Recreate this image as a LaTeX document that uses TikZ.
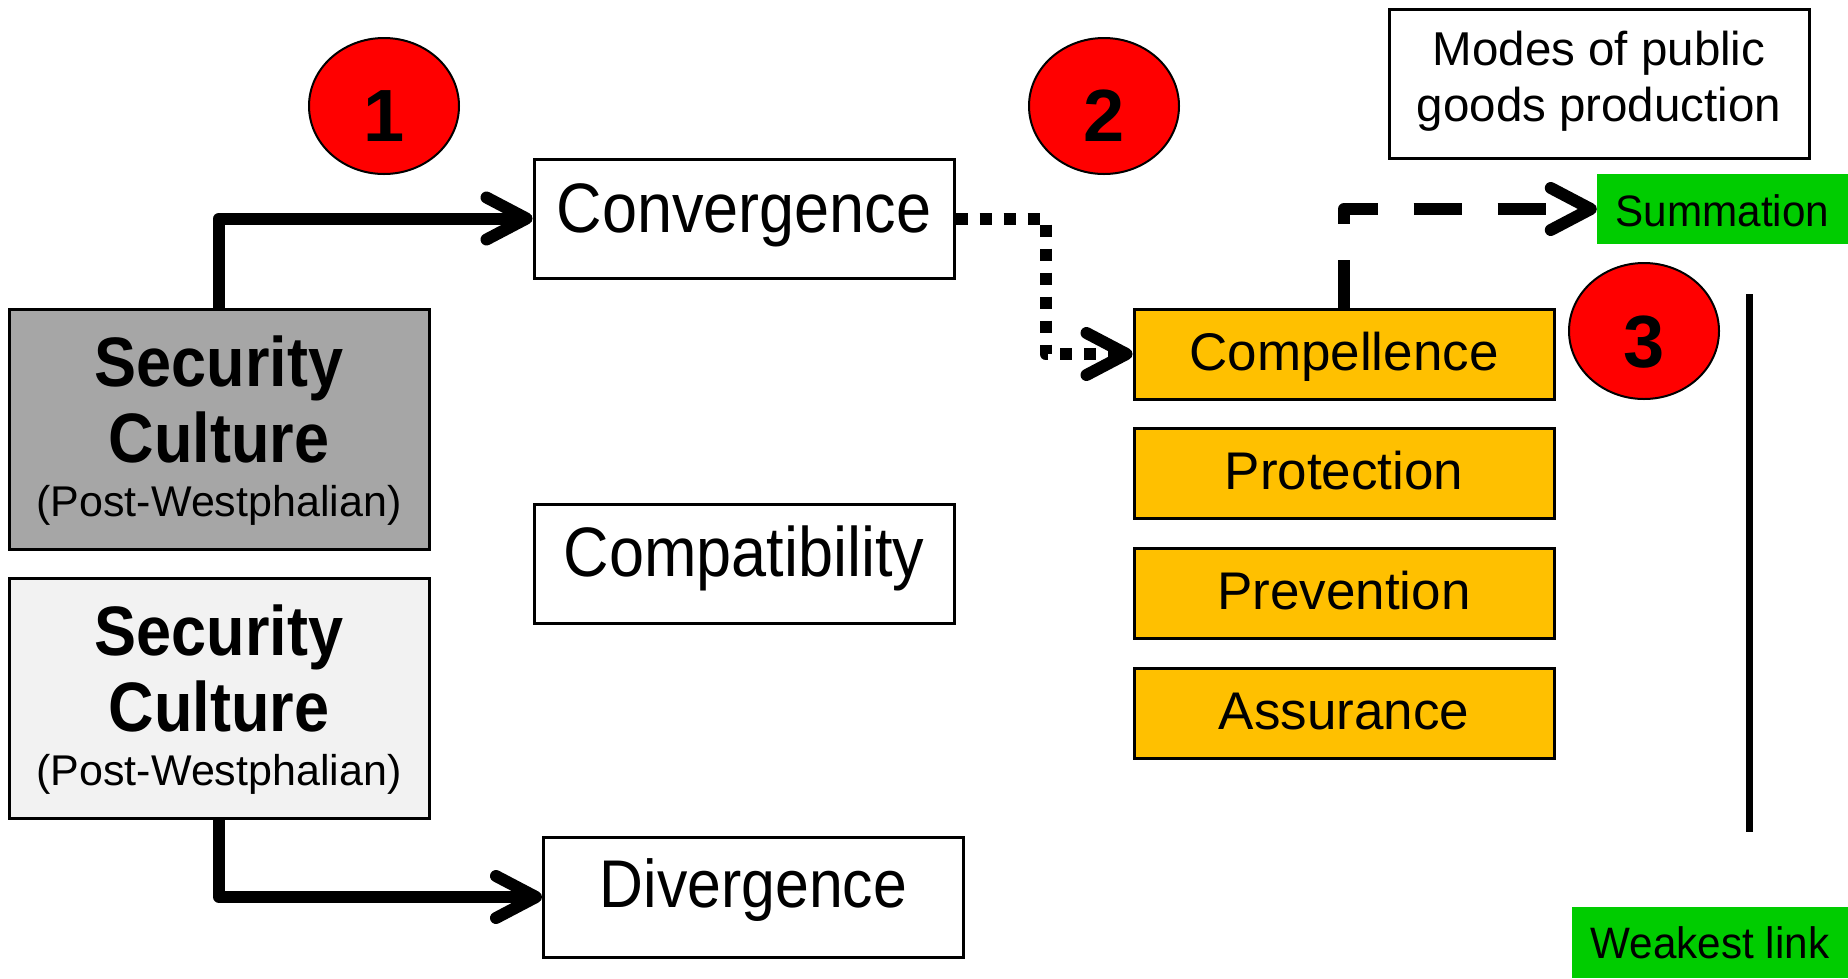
\documentclass[tikz,border=0pt]{standalone}
\usepackage{fontspec}
\setmainfont{Liberation Sans}
\usepackage{graphicx}
\usetikzlibrary{arrows.meta,shapes.geometric}
\newcommand{\hsq}[2]{\scalebox{#1}[1]{#2}}
\definecolor{grayA}{HTML}{A6A6A6}
\definecolor{grayB}{HTML}{F2F2F2}
\definecolor{orangeY}{HTML}{FFC000}
\definecolor{greenB}{HTML}{00CC00}
\definecolor{redC}{HTML}{FF0000}
\begin{document}
\begin{tikzpicture}[x=1pt,y=-1pt,
  box/.style={draw=black, line width=3pt, rectangle, inner sep=0pt, text depth=0pt},
  outbox/.style={box, fill=white, minimum width=420pt, minimum height=119pt,
     font=\fontsize{70pt}{84pt}\selectfont},
  modebox/.style={box, fill=orangeY, minimum width=420pt, minimum height=90pt,
     text height=32pt, font=\fontsize{53pt}{64pt}\selectfont},
  culture/.style={box, minimum width=420pt, minimum height=240pt},
  greenbox/.style={rectangle, fill=greenB, inner sep=0pt, text depth=0pt,
     font=\fontsize{44pt}{53pt}\selectfont},
  numcirc/.style={ellipse, draw=black, line width=2pt, fill=redC, inner sep=0pt,
     minimum width=150pt, minimum height=136pt, text depth=0pt,
     font=\fontsize{74pt}{88pt}\selectfont\bfseries},
  bigtxt/.style={anchor=base, inner sep=0pt, font=\fontsize{70pt}{84pt}\selectfont\bfseries},
  smalltxt/.style={anchor=base, inner sep=0pt, font=\fontsize{43pt}{52pt}\selectfont},
  modestxt/.style={anchor=base, inner sep=0pt, font=\fontsize{47.5pt}{57pt}\selectfont},
  conn/.style={line width=12pt, line join=round,
     -{Straight Barb[length=40pt,width=42pt,round]}},
  dotconn/.style={conn, dash pattern=on 12pt off 12pt},
  dashconn/.style={conn, dash pattern=on 48pt off 36pt},
]
\useasboundingbox (0,0) rectangle (1848,978);

% numbered circles
\node[numcirc, text height=70pt] (n1) at (384,106) {1};
\node[numcirc, text height=70pt] (n2) at (1104,106) {2};
\node[numcirc, text height=72pt] (n3) at (1644,331) {3};

% security culture boxes
\node[culture, fill=grayA] (sc1) at (219,429) {};
\node[bigtxt] (sc1a) at (219,386) {\hsq{0.9}{Security}};
\node[bigtxt] (sc1b) at (219,462) {\hsq{0.9}{Culture}};
\node[smalltxt] (sc1c) at (219,516) {(Post-Westphalian)};

\node[culture, fill=grayB] (sc2) at (219,698) {};
\node[bigtxt] (sc2a) at (219,655) {\hsq{0.9}{Security}};
\node[bigtxt] (sc2b) at (219,731) {\hsq{0.9}{Culture}};
\node[smalltxt] (sc2c) at (219,785) {(Post-Westphalian)};

% outcome boxes
\node[outbox, text height=27pt] (conv) at (744,218.5) {\hsq{0.9}{Convergence}};
\node[outbox, text height=25pt] (compat) at (744,563.5) {\hsq{0.9}{Compatibility}};
\node[outbox, text height=20pt, minimum height=120pt,
      font=\fontsize{67.5pt}{80pt}\selectfont] (div) at (753.5,897) {\hsq{0.9}{Divergence}};

% modes
\node[modebox] (compel) at (1344,354) {Compellence};
\node[modebox] (prot) at (1344,473.5) {Protection};
\node[modebox] (prev) at (1344,593) {Prevention};
\node[modebox] (assur) at (1344,713) {Assurance};

% header box
\node[box, minimum width=420pt, minimum height=149pt] (modes) at (1599,83.5) {};
\node[modestxt] (modesa) at (1599,65) {Modes of public};
\node[modestxt] (modesb) at (1599,121) {goods production};

% green boxes
\node[greenbox, minimum width=251pt, minimum height=70pt, text height=34pt] (summ) at (1722.5,209) {\hsq{0.96}{Summation}};
\node[greenbox, minimum width=276pt, minimum height=71pt, text height=31pt] (weak) at (1710,942.5) {\hsq{0.96}{Weakest link}};

% vertical scale line
\coordinate (vtop) at (1749,294);
\coordinate (vbot) at (1749,832);
\draw[line width=7pt] (vtop) -- (vbot);

% connectors
\draw[conn] (sc1.north) |- (conv.west);
\draw[conn] (sc2.south) |- (div.west);
\draw[dotconn] (conv.east) -- ++(90,0) |- (compel.west);
\draw[dashconn] (compel.north) |- (summ.west);
\end{tikzpicture}
\end{document}
